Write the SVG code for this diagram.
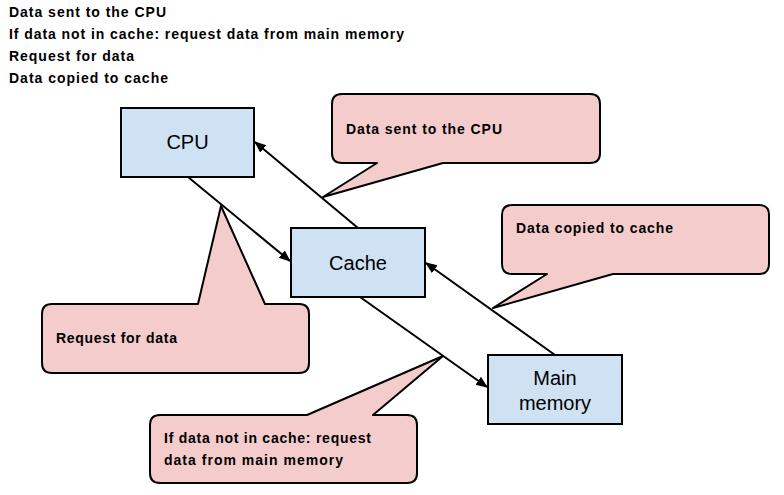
<svg xmlns="http://www.w3.org/2000/svg" width="784" height="495" viewBox="0 0 784 495">
<style>
.hdr{font-family:"Liberation Sans",Arial,sans-serif;font-weight:bold;font-size:14px;fill:#000}
.note{font-family:"Liberation Sans",Arial,sans-serif;font-weight:bold;font-size:14px;fill:#000}
.box{fill:#cfe2f3;stroke:#000;stroke-width:2}
.call{fill:#f4cccc;stroke:#000;stroke-width:2;stroke-linejoin:round}
.lbl{font-family:"Liberation Sans",Arial,sans-serif;font-size:20px;fill:#000;text-anchor:middle}
.conn{stroke:#000;stroke-width:2;fill:none;marker-end:url(#ah)}
</style>
<defs>
<marker id="ah" viewBox="0 0 10 10" refX="9" refY="5" markerWidth="6" markerHeight="6" orient="auto" markerUnits="strokeWidth">
<path d="M0,1 L10,5 L0,9 Z" fill="#000"/>
</marker>
</defs>
<rect width="784" height="495" fill="#fff"/>
<g id="header">
<text class="hdr" x="9" y="17" textLength="157">Data sent to the CPU</text>
<text class="hdr" x="9" y="39" textLength="395">If data not in cache: request data from main memory</text>
<text class="hdr" x="9" y="61" textLength="125">Request for data</text>
<text class="hdr" x="9" y="83" textLength="159">Data copied to cache</text>
</g>
<g id="note-sent">
<path class="call" d="M342,94 H590 Q600,94 600,104 V153 Q600,163 590,163 H443 L323,197 L377,163 H342 Q332,163 332,153 V104 Q332,94 342,94 Z"/>
<text class="note" x="346" y="134" textLength="156">Data sent to the CPU</text>
</g>
<g id="note-copied">
<path class="call" d="M512,205 H759 Q769,205 769,215 V264 Q769,274 759,274 H613 L493,308 L547,274 H512 Q502,274 502,264 V215 Q502,205 512,205 Z"/>
<text class="note" x="516" y="233" textLength="157">Data copied to cache</text>
</g>
<g id="note-request">
<path class="call" d="M52,304 H198 L221,206 L265,304 H299 Q309,304 309,314 V363 Q309,373 299,373 H52 Q42,373 42,363 V314 Q42,304 52,304 Z"/>
<text class="note" x="56" y="343" textLength="121">Request for data</text>
</g>
<g id="note-miss">
<path class="call" d="M160,415 H307 L443,356 L373,415 H407 Q417,415 417,425 V473 Q417,483 407,483 H160 Q150,483 150,473 V425 Q150,415 160,415 Z"/>
<text class="note" x="164" y="443" textLength="207">If data not in cache: request</text>
<text class="note" x="164" y="465" textLength="179">data from main memory</text>
</g>
<g id="connectors">
<line class="conn" x1="188" y1="177" x2="290" y2="261"/>
<line class="conn" x1="358" y1="228" x2="255" y2="142"/>
<line class="conn" x1="360" y1="297" x2="487" y2="387"/>
<line class="conn" x1="555" y1="355" x2="426" y2="263"/>
</g>
<g id="cpu">
<rect class="box" x="121" y="108" width="133" height="69"/>
<text class="lbl" x="187.5" y="149">CPU</text>
</g>
<g id="cache">
<rect class="box" x="291" y="228" width="134" height="69"/>
<text class="lbl" x="358" y="270">Cache</text>
</g>
<g id="main-memory">
<rect class="box" x="488" y="355" width="134" height="69"/>
<text class="lbl" x="555" y="385">Main</text>
<text class="lbl" x="555" y="410">memory</text>
</g>
</svg>
